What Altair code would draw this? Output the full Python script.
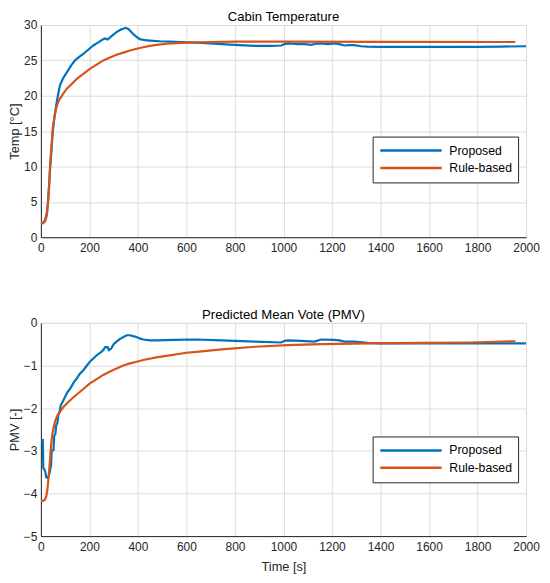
import altair as alt
import pandas as pd

FONT = "Liberation Sans"
BLUE = "#0072BD"
ORANGE = "#D95319"

# ---- Cabin temperature ----
temp_prop_t = [0, 10, 18, 25, 29, 34, 38, 44, 49, 56, 63, 70, 79, 92, 107, 125, 141, 158, 175, 195,
               216, 235, 257, 265, 275, 290, 312, 330, 350, 362, 381, 395, 408, 430, 449, 490, 531,
               600, 641, 700, 745, 800, 882, 950, 991, 1005, 1018, 1040, 1059, 1090, 1114, 1135,
               1155, 1183, 1210, 1230, 1251, 1270, 1292, 1320, 1347, 1400, 1600, 1800, 1900, 2000]
temp_prop_v = [2.1, 2.0, 2.5, 3.5, 5.0, 7.5, 9.7, 12.5, 14.9, 17.0, 18.6, 20.0, 21.5, 22.5, 23.3,
               24.3, 25.0, 25.5, 25.9, 26.5, 27.1, 27.5, 28.0, 28.1, 27.95, 28.4, 29.0, 29.35, 29.6,
               29.4, 28.7, 28.3, 28.0, 27.85, 27.8, 27.7, 27.65, 27.55, 27.5, 27.4, 27.3, 27.2, 27.05,
               27.05, 27.1, 27.3, 27.4, 27.35, 27.3, 27.3, 27.2, 27.35, 27.4, 27.3, 27.4, 27.3, 27.1,
               27.15, 27.15, 27.0, 26.95, 26.9, 26.9, 26.9, 26.95, 27.0]

temp_rule_t = [0, 10, 18, 24, 29, 34, 38, 44, 49, 56, 63, 70, 79, 92, 107, 125, 148, 175, 202, 230,
               257, 285, 312, 340, 367, 395, 422, 450, 476, 520, 558, 600, 641, 700, 800, 1000, 1400,
               1956]
temp_rule_v = [2.0, 2.0, 2.3, 3.0, 4.5, 7.0, 10.2, 13.0, 15.4, 17.0, 18.2, 19.0, 19.6, 20.3, 21.0,
               21.6, 22.4, 23.1, 23.8, 24.4, 25.0, 25.4, 25.8, 26.1, 26.4, 26.65, 26.85, 27.05, 27.2,
               27.35, 27.45, 27.52, 27.55, 27.6, 27.65, 27.65, 27.62, 27.6]

# ---- PMV ----
pmv_prop_t = [0, 8, 10, 18, 22, 29, 36, 42, 45, 52, 55, 60, 63, 68, 72, 77, 82, 90, 100, 110, 121,
              135, 148, 160, 175, 190, 202, 215, 230, 245, 257, 265, 275, 280, 290, 300, 312, 325,
              340, 355, 367, 380, 394, 410, 422, 450, 476, 550, 641, 745, 882, 991, 1005, 1018, 1073,
              1128, 1155, 1210, 1230, 1251, 1292, 1347, 1400, 1600, 1800, 2000]
pmv_prop_v = [-2.75, -2.75, -3.4, -3.48, -3.62, -3.64, -3.52, -3.33, -3.0, -2.98, -2.65, -2.6, -2.4,
              -2.35, -2.16, -2.1, -1.93, -1.85, -1.73, -1.62, -1.54, -1.4, -1.3, -1.2, -1.11, -1.0,
              -0.91, -0.84, -0.76, -0.7, -0.64, -0.57, -0.57, -0.64, -0.6, -0.5, -0.44, -0.38, -0.33,
              -0.29, -0.29, -0.31, -0.33, -0.37, -0.39, -0.41, -0.41, -0.4, -0.39, -0.41, -0.44,
              -0.46, -0.42, -0.41, -0.42, -0.44, -0.39, -0.40, -0.41, -0.44, -0.44, -0.47, -0.48,
              -0.48, -0.48, -0.48]

pmv_rule_t = [0, 11, 18, 22, 26, 29, 33, 36, 42, 47, 52, 57, 63, 70, 79, 92, 107, 125, 148, 175,
              202, 230, 257, 285, 312, 340, 367, 395, 422, 476, 531, 600, 641, 745, 882, 1018, 1155,
              1360, 1565, 1771, 1956]
pmv_rule_v = [-4.18, -4.17, -4.14, -4.07, -3.95, -3.79, -3.55, -3.33, -2.86, -2.62, -2.47, -2.34,
              -2.24, -2.15, -2.08, -1.98, -1.89, -1.79, -1.68, -1.55, -1.42, -1.32, -1.22, -1.14,
              -1.07, -1.0, -0.95, -0.91, -0.87, -0.81, -0.76, -0.70, -0.68, -0.62, -0.56, -0.52,
              -0.50, -0.48, -0.47, -0.46, -0.43]

series_names = ["Proposed", "Rule-based"]
x_ticks = list(range(0, 2001, 200))


def make_df(t1, v1, t2, v2):
    a = pd.DataFrame({"t": t1, "v": v1, "s": series_names[0], "o": range(len(t1))})
    b = pd.DataFrame({"t": t2, "v": v2, "s": series_names[1], "o": range(len(t2))})
    return pd.concat([a, b], ignore_index=True)


def panel(df, title, ytitle, ydom, yticks, xtitle, legend_y, h):
    x_axis = alt.Axis(values=x_ticks, title=xtitle, labelFlush=False, format="d",
                      titlePadding=9, labelPadding=5)
    return alt.Chart(df).mark_line(strokeWidth=2.2, clip=True).encode(
        x=alt.X("t:Q", scale=alt.Scale(domain=[0, 2000], nice=False), axis=x_axis),
        y=alt.Y("v:Q", scale=alt.Scale(domain=ydom, nice=False),
                axis=alt.Axis(values=yticks, title=ytitle, labelFlush=False, format="d",
                              titleX=-19)),
        color=alt.Color("s:N", scale=alt.Scale(domain=series_names, range=[BLUE, ORANGE]),
                        legend=alt.Legend(title=None, orient="none", legendX=333, legendY=legend_y,
                                          symbolType="stroke", symbolSize=3800,
                                          symbolStrokeWidth=2.5, clipHeight=16,
                                          labelFontSize=12.3, labelFont=FONT, labelColor="black",
                                          fillColor="white", strokeColor="#262626",
                                          padding=6, rowPadding=1.5, labelOffset=6)),
        order="o:Q",
    ).properties(
        width=487, height=h,
        title=alt.TitleParams(title, fontSize=13.2, fontWeight="normal", font=FONT,
                              color="black", offset=-5),
    )


top = panel(make_df(temp_prop_t, temp_prop_v, temp_rule_t, temp_rule_v),
            "Cabin Temperature", "Temp [°C]", [0, 30], list(range(0, 31, 5)), None, 112, 213)
bottom = panel(make_df(pmv_prop_t, pmv_prop_v, pmv_rule_t, pmv_rule_v),
               "Predicted Mean Vote (PMV)", "PMV [-]", [-5, 0], [-5, -4, -3, -2, -1, 0],
               "Time [s]", 114, 214)

chart = alt.vconcat(top, bottom, spacing=53).resolve_scale(color="independent").configure(
    padding={"left": 0, "top": 0, "right": 2, "bottom": 2},
    background="white",
).configure_view(
    stroke="#dcdcdc", strokeWidth=1,
).configure_axis(
    labelFont=FONT, titleFont=FONT, labelFontSize=12, titleFontSize=12.8,
    labelColor="#262626", titleColor="#262626", titleFontWeight="normal",
    gridColor="#dcdcdc", gridWidth=1, domainColor="#262626", domainWidth=1,
    ticks=False, labelPadding=4,
)

chart.save("out.html", embed_options={"renderer": "svg", "actions": False})
